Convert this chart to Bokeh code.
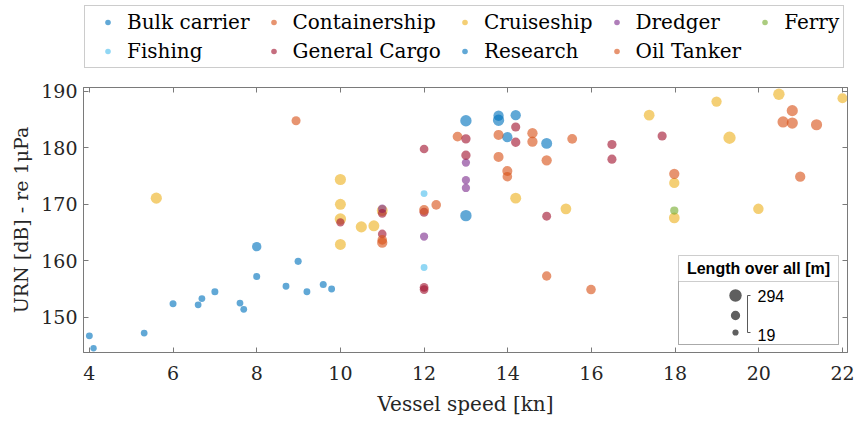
from bokeh.plotting import figure
from bokeh.layouts import column
from bokeh.models import (ColumnDataSource, Legend, LinearAxis, Range1d, Label,
                          BoxAnnotation, FixedTicker)
from bokeh.embed import file_html
from bokeh.resources import INLINE

# ---------------- data ----------------
categories = ["Bulk carrier", "Containership", "Cruiseship", "Dredger", "Ferry",
              "Fishing", "General Cargo", "Research", "Oil Tanker"]
colors = ["#0072BD", "#D95319", "#EDB120", "#7E2F8E", "#77AC30",
          "#4DBEEE", "#A2142F", "#0072BD", "#D95319"]

bulk_speed = [13.0, 13.0, 13.78, 13.78, 13.99, 14.19, 14.93]
bulk_urn = [184.8, 168.0, 185.7, 184.9, 181.9, 185.8, 180.8]
bulk_loa = [248, 248, 202, 248, 202, 202, 230]

container_speed = [8.94, 12.8, 13.78, 13.78, 14.59, 14.59, 14.93, 15.54, 20.58, 20.8, 20.8, 21.38]
container_urn = [184.8, 182.0, 182.3, 178.4, 182.6, 181.1, 177.8, 181.6, 184.6, 186.6, 184.4, 184.1]
container_loa = [145, 180, 190, 190, 200, 200, 200, 180, 240, 240, 240, 240]

cruise_speed = [5.6, 10.0, 10.0, 10.0, 10.0, 10.5, 10.8, 11.0, 14.19, 15.39, 17.38, 17.98,
                17.98, 18.99, 19.3, 19.99, 20.48, 22.0]
cruise_urn = [171.1, 174.4, 170.0, 167.4, 162.9, 166.0, 166.2, 168.9, 171.1, 169.2, 185.8, 173.8,
              167.6, 188.2, 181.8, 169.2, 189.5, 188.8]
cruise_loa = [240, 240, 230, 250, 230, 240, 230, 230, 230, 220, 220, 200,
              220, 200, 290, 210, 250, 190]

dredger_speed = [11.0, 12.0, 13.0, 13.0, 13.0]
dredger_urn = [169.2, 164.3, 177.4, 174.3, 172.9]
dredger_loa = [120, 110, 110, 110, 110]

ferry_speed = [17.98]
ferry_urn = [168.9]
ferry_loa = [110]

fishing_speed = [12.0, 12.0]
fishing_urn = [171.9, 158.8]
fishing_loa = [50, 50]

cargo_speed = [10.0, 11.0, 11.0, 12.0, 12.0, 12.0, 12.0, 13.0, 13.0, 14.19, 14.19, 14.93,
               16.49, 16.49, 17.69]
cargo_urn = [166.8, 168.4, 164.75, 179.8, 168.6, 155.3, 154.9, 181.6, 178.7, 183.7, 181.0, 167.9,
             180.6, 178.0, 182.1]
cargo_loa = [110, 130, 130, 130, 140, 130, 130, 160, 160, 150, 160, 140, 150, 150, 150]

research_speed = [4.0, 4.1, 5.31, 6.0, 6.6, 6.69, 7.0, 7.6, 7.69, 8.0, 8.0, 8.7, 8.99, 9.2,
                  9.59, 9.79]
research_urn = [146.7, 144.5, 147.2, 152.4, 152.2, 153.3, 154.5, 152.5, 151.4, 162.5, 157.2,
                155.5, 159.9, 154.5, 155.8, 155.0]
research_loa = [50, 25, 45, 55, 45, 45, 55, 45, 45, 160, 55, 50, 60, 50, 55, 50]

tanker_speed = [11.0, 11.0, 12.0, 12.29, 13.99, 13.99, 14.93, 15.99, 17.98, 20.99]
tanker_urn = [163.7, 163.2, 169.0, 169.9, 175.9, 174.9, 157.3, 154.9, 175.4, 174.9]
tanker_loa = [170, 200, 180, 170, 190, 170, 160, 170, 200, 200]

series = [
    (bulk_speed, bulk_urn, bulk_loa),
    (container_speed, container_urn, container_loa),
    (cruise_speed, cruise_urn, cruise_loa),
    (dredger_speed, dredger_urn, dredger_loa),
    (ferry_speed, ferry_urn, ferry_loa),
    (fishing_speed, fishing_urn, fishing_loa),
    (cargo_speed, cargo_urn, cargo_loa),
    (research_speed, research_urn, research_loa),
    (tanker_speed, tanker_urn, tanker_loa),
]

x_ticks = [4, 6, 8, 10, 12, 14, 16, 18, 20, 22]
y_ticks = [150, 160, 170, 180, 190]
loa_min, loa_max = 19, 294
key_loa = [294, 156, 19]
key_labels = ["294", "19"]

# ---------------- styling ----------------
SERIF = "DejaVu Serif"
SANS = "Liberation Sans"
AX = "#7a7a7a"
TXT = "#262626"
D_MIN, D_MAX = 6.2, 12.4
ALPHA = 0.62


def diam(l):
    return D_MIN + (l - loa_min) / (loa_max - loa_min) * (D_MAX - D_MIN)


W, H = 856, 422
LEG_H = 80
X0, X1 = 3.86, 22.12
Y0, Y1 = 143.75, 190.7
BL, BR, BT, BB = 83, 9, 7, 70
PH = H - LEG_H
FW = W - BL - BR
FH = PH - BT - BB

# ---------------- legend strip (its data lie outside its own empty view) ----------------
lf = figure(width=W, height=LEG_H, x_range=Range1d(0, 1), y_range=Range1d(0, 1),
            output_backend="svg", toolbar_location=None,
            x_axis_location=None, y_axis_location=None, min_border=0)
lf.grid.visible = False
lf.outline_line_color = None
leg_items = []
for name, col, (sx, sy, sl) in zip(categories, colors, series):
    r = lf.scatter(x=sx, y=sy, size=8, fill_color=col, fill_alpha=ALPHA,
                   line_color=col, line_alpha=0.0)
    leg_items.append((name, [r]))
legend = Legend(items=leg_items, ncols=5, orientation="horizontal")
legend.label_text_font = SERIF
legend.label_text_font_size = "20px"
legend.label_text_color = "black"
legend.glyph_width = 37
legend.glyph_height = 14
legend.label_standoff = 1
legend.spacing = 5
legend.padding = 4
legend.margin = 0
legend.border_line_color = "#9a9a9a"
legend.background_fill_alpha = 1.0
legend.location = (1, 12)
lf.add_layout(legend, "center")

# ---------------- main plot ----------------
p = figure(width=W, height=PH, x_range=Range1d(X0, X1), y_range=Range1d(Y0, Y1),
           output_backend="svg", toolbar_location=None,
           min_border_left=BL, min_border_right=BR, min_border_bottom=BB, min_border_top=BT)
p.grid.visible = False
p.outline_line_color = AX
p.background_fill_color = "white"
p.border_fill_color = "white"

for name, col, (sx, sy, sl) in zip(categories, colors, series):
    src = ColumnDataSource(dict(x=sx, y=sy, size=[diam(v) for v in sl]))
    p.scatter("x", "y", size="size", source=src, fill_color=col, fill_alpha=ALPHA,
              line_color=col, line_alpha=0.0)

for ax in (p.xaxis[0], p.yaxis[0]):
    ax.axis_line_color = AX
    ax.major_tick_line_color = AX
    ax.major_tick_in = 5
    ax.major_tick_out = 0
    ax.minor_tick_line_color = None
    ax.major_label_text_font = SERIF
    ax.major_label_text_font_size = "19px"
    ax.major_label_text_color = TXT
    ax.axis_label_text_font = SERIF
    ax.axis_label_text_font_style = "normal"
    ax.axis_label_text_color = TXT

p.xaxis.ticker = FixedTicker(ticks=x_ticks)
p.yaxis.ticker = FixedTicker(ticks=y_ticks)
p.xaxis.axis_label = "Vessel speed [kn]"
p.yaxis.axis_label = "URN [dB] - re 1\u03bcPa"
p.xaxis.axis_label_text_font_size = "20px"
p.yaxis.axis_label_text_font_size = "19px"
p.xaxis.major_label_standoff = 13
p.yaxis.major_label_standoff = 6
p.xaxis.axis_label_standoff = 9
p.yaxis.axis_label_standoff = 6

top_ax = LinearAxis(ticker=FixedTicker(ticks=x_ticks),
                    major_label_overrides={t: "" for t in x_ticks},
                    major_tick_in=5, major_tick_out=0, minor_tick_line_color=None,
                    axis_line_color=AX, major_tick_line_color=AX, major_label_standoff=0)
right_ax = LinearAxis(ticker=FixedTicker(ticks=y_ticks),
                      major_label_overrides={t: "" for t in y_ticks},
                      major_tick_in=5, major_tick_out=0, minor_tick_line_color=None,
                      axis_line_color=AX, major_tick_line_color=AX, major_label_standoff=0)
p.add_layout(top_ax, "above")
p.add_layout(right_ax, "right")

# ---------------- size key (placed relative to the frame) ----------------
box_l, box_r, box_t, box_b = 595, 755, 97, 8
sep = 71
p.add_layout(BoxAnnotation(left=box_l, right=box_r, top=box_t, bottom=box_b,
                           left_units="screen", right_units="screen",
                           top_units="screen", bottom_units="screen",
                           fill_color="white", fill_alpha=1.0,
                           line_color="#595959", line_width=1, level="annotation"))
p.add_layout(BoxAnnotation(left=box_l, right=box_r, top=sep, bottom=box_b,
                           left_units="screen", right_units="screen",
                           top_units="screen", bottom_units="screen",
                           fill_color="white", fill_alpha=0.0,
                           line_color="#595959", line_width=1, level="annotation"))
p.add_layout(Label(x=(box_l + box_r) / 2, y=(box_t + sep) / 2, x_units="screen", y_units="screen",
                   text="Length over all [m]", text_font=SANS, text_font_size="16px",
                   text_font_style="bold", text_align="center", text_baseline="middle",
                   text_color="black", level="overlay"))


def fx(px):
    return X0 + px / FW * (X1 - X0)


def fy(py):
    return Y0 + py / FH * (Y1 - Y0)


key_sx = 652
key_sy = [57, 37, 20]
p.scatter([fx(key_sx)] * 3, [fy(v) for v in key_sy], size=[diam(v) for v in key_loa],
          fill_color="#5f5f5f", line_color="#5f5f5f", line_alpha=0, level="overlay")
bx0, bx1 = 664, 667
p.line([fx(bx1), fx(bx0), fx(bx0), fx(bx1)], [fy(key_sy[0]), fy(key_sy[0]), fy(key_sy[2]), fy(key_sy[2])],
       line_color="#595959", line_width=1, level="overlay")
p.add_layout(Label(x=bx1 + 7, y=key_sy[0], x_units="screen", y_units="screen", text=key_labels[0],
                   text_font=SANS, text_font_size="16px", text_baseline="middle",
                   text_color="black", level="overlay"))
p.add_layout(Label(x=bx1 + 7, y=key_sy[2] - 2, x_units="screen", y_units="screen", text=key_labels[1],
                   text_font=SANS, text_font_size="16px", text_baseline="middle",
                   text_color="black", level="overlay"))

open("out.html", "w").write(file_html(column(lf, p, spacing=0), INLINE))
